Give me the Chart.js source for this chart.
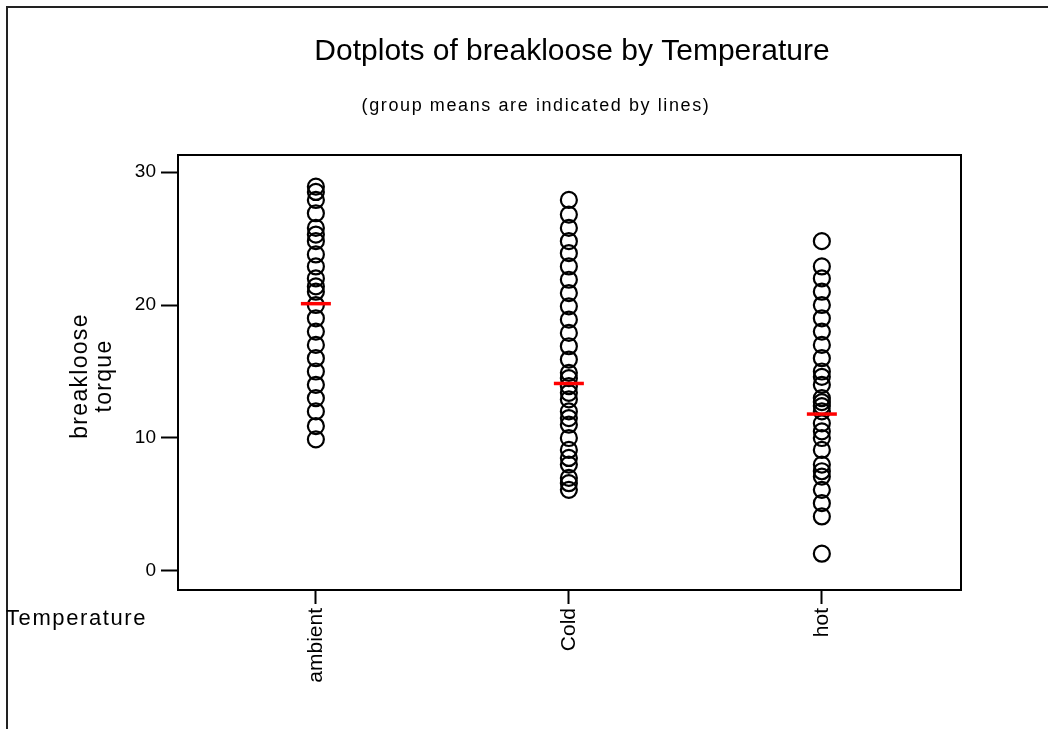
<!DOCTYPE html>
<html>
<head>
<meta charset="utf-8">
<script src="https://cdn.jsdelivr.net/npm/chart.js@4.4.1/dist/chart.umd.min.js"></script>
<style>
html,body{margin:0;padding:0;background:#fff;}
#wrap{position:relative;width:1048px;height:729px;}
</style>
</head>
<body>
<div id="wrap"><canvas id="c" width="1048" height="729"></canvas></div>
<script>
const categories = ["ambient", "Cold", "hot"];
const ambientValues = [9.9, 10.9, 12.0, 13.0, 14.0, 15.0, 16.0, 17.0, 18.0, 19.0, 20.0, 21.0, 21.4, 22.0, 22.9, 23.8, 24.8, 25.3, 25.8, 26.9, 27.9, 28.5, 28.9];
const coldValues = [6.1, 6.6, 7.0, 8.0, 8.5, 9.1, 10.0, 11.0, 11.5, 12.0, 12.9, 13.4, 13.9, 14.5, 14.9, 15.9, 16.9, 17.9, 18.9, 19.9, 20.9, 21.9, 22.9, 23.9, 24.8, 25.8, 26.8, 27.9];
const hotValues = [1.3, 4.1, 5.1, 6.1, 7.1, 7.5, 8.0, 9.1, 10.0, 10.5, 11.1, 12.0, 12.4, 12.7, 13.0, 14.0, 14.6, 15.0, 16.0, 17.0, 18.0, 19.0, 20.0, 21.0, 22.0, 22.9, 24.8];
const groupMeans = [20.1, 14.1, 11.8];
const yTicks = [0, 10, 20, 30];

const FONT = "Arial, 'Liberation Sans', sans-serif";
const groups = [ambientValues, coldValues, hotValues];
const dotData = [];
groups.forEach((vals, i) => vals.forEach(v => dotData.push({x: i, y: v})));
const meanData = groupMeans.map((m, i) => ({x: i, y: m}));

function spacedText(ctx, text, x, y, spacing) {
  if ('letterSpacing' in ctx) {
    ctx.letterSpacing = spacing + 'px';
    ctx.fillText(text, x, y);
    ctx.letterSpacing = '0px';
  } else {
    ctx.fillText(text, x, y);
  }
}

const decor = {
  id: 'decor',
  beforeDraw(chart) {
    const ctx = chart.ctx;
    ctx.save();
    ctx.fillStyle = '#fff';
    ctx.fillRect(0, 0, chart.width, chart.height);
    ctx.restore();
  },
  afterDraw(chart) {
    const ctx = chart.ctx;
    const a = chart.chartArea;
    ctx.save();
    // figure frame (left + top)
    ctx.strokeStyle = '#222';
    ctx.lineWidth = 2;
    ctx.beginPath();
    ctx.moveTo(7, 729);
    ctx.lineTo(7, 7);
    ctx.lineTo(1048, 7);
    ctx.stroke();
    // plot box
    ctx.strokeStyle = '#000';
    ctx.lineWidth = 2;
    ctx.strokeRect(a.left, a.top, a.right - a.left, a.bottom - a.top);
    // titles
    ctx.fillStyle = '#000';
    ctx.textAlign = 'center';
    ctx.textBaseline = 'alphabetic';
    ctx.font = '30px ' + FONT;
    ctx.fillText('Dotplots of breakloose by Temperature', 572, 60);
    ctx.font = '18px ' + FONT;
    spacedText(ctx, '(group means are indicated by lines)', 536, 111, 1.6);
    // y label
    ctx.save();
    ctx.translate(0, 376);
    ctx.rotate(-Math.PI / 2);
    ctx.font = '23px ' + FONT;
    ctx.textBaseline = 'middle';
    spacedText(ctx, 'breakloose', 0, 81, 1.3);
    spacedText(ctx, 'torque', 0, 105, 1.3);
    ctx.restore();
    // x group label
    ctx.textAlign = 'left';
    ctx.textBaseline = 'middle';
    ctx.font = '22px ' + FONT;
    spacedText(ctx, 'Temperature', 6, 619, 1.6);
    ctx.restore();
  }
};

new Chart(document.getElementById('c'), {
  type: 'scatter',
  data: {
    datasets: [
      {
        label: 'breakloose',
        data: dotData,
        pointStyle: 'circle',
        pointRadius: 8,
        pointHoverRadius: 8,
        pointBorderWidth: 2.2,
        borderColor: '#000',
        backgroundColor: 'rgba(0,0,0,0)',
        order: 2
      },
      {
        label: 'mean',
        data: meanData,
        pointStyle: 'line',
        pointRadius: 15,
        pointHoverRadius: 15,
        pointBorderWidth: 3.5,
        borderColor: '#ff0000',
        backgroundColor: '#ff0000',
        order: 1
      }
    ]
  },
  options: {
    responsive: false,
    animation: false,
    events: [],
    layout: {padding: {left: 118, right: 87, top: 155, bottom: 39}},
    plugins: {legend: {display: false}, tooltip: {enabled: false}, title: {display: false}},
    scales: {
      x: {
        type: 'linear',
        min: -0.545,
        max: 2.55,
        afterBuildTicks(scale) { scale.ticks = categories.map((c, i) => ({value: i})); },
        afterFit(scale) { scale.height = 100; },
        ticks: {
          callback: (v) => categories[v] !== undefined ? categories[v] : '',
          minRotation: 90,
          maxRotation: 90,
          autoSkip: false,
          padding: 4,
          color: '#000',
          font: {family: FONT, size: 21}
        },
        grid: {drawOnChartArea: false, drawTicks: true, tickLength: 14, tickWidth: 2, tickColor: '#000'},
        border: {display: true, color: '#000', width: 2}
      },
      y: {
        type: 'linear',
        min: -1.43,
        max: 31.28,
        afterBuildTicks(scale) { scale.ticks = yTicks.map(v => ({value: v})); },
        afterFit(scale) { scale.width = 60; },
        ticks: {
          color: '#000',
          padding: 5,
          font: {family: FONT, size: 19}
        },
        grid: {drawOnChartArea: false, drawTicks: true, tickLength: 17, tickWidth: 2, tickColor: '#000'},
        border: {display: true, color: '#000', width: 2}
      }
    }
  },
  plugins: [decor]
});
</script>
</body>
</html>
